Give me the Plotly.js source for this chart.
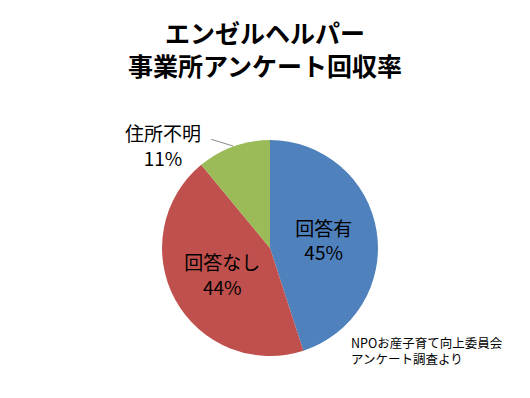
<!DOCTYPE html>
<html><head><meta charset="utf-8">
<script src="https://cdn.plot.ly/plotly-3.0.1.min.js"></script>
<style>html,body{margin:0;padding:0;background:#fff}#c{width:530px;height:398px}</style>
</head><body><div id="c"></div>
<script>
const labels = ['回答有', '回答なし', '住所不明'];
const values = [45, 44, 11];
const colors = ['#4F81BD', '#C0504D', '#9BBB59'];
const titleText = 'エンゼルヘルパー<br>事業所アンケート回収率';
const sourceText = 'NPOお産子育て向上委員会<br>アンケート調査より';

const font = '"Noto Sans CJK JP", "Noto Sans", sans-serif';
const total = values.reduce((a, b) => a + b, 0);

const trace = {
  type: 'pie',
  labels: labels,
  values: values,
  sort: false,
  direction: 'clockwise',
  rotation: 0,
  marker: {colors: colors, line: {width: 0}},
  texttemplate: '%{label}<br>%{percent:.0%}',
  textposition: ['inside', 'inside', 'none'],
  insidetextorientation: 'horizontal',
  textfont: {family: font, size: 19, color: '#000'},
  hoverinfo: 'none',
  showlegend: false,
  domain: {x: [0.3057, 0.7132], y: [0.1055, 0.648]}
};

const layout = {
  width: 530, height: 398,
  margin: {l: 0, r: 0, t: 0, b: 0},
  paper_bgcolor: '#fff',
  annotations: [
    {
      text: '<b>' + titleText + '</b>',
      xref: 'paper', yref: 'paper',
      x: 0.5, y: 0.879, xanchor: 'center', yanchor: 'middle',
      showarrow: false, align: 'center',
      font: {family: font, size: 25, color: '#000'}
    },
    {
      text: labels[2] + '<br>' + Math.round(values[2] / total * 100) + '%',
      xref: 'paper', yref: 'paper',
      x: 0.308, y: 0.636, xanchor: 'center', yanchor: 'middle',
      showarrow: false,
      font: {family: font, size: 19, color: '#000'}, align: 'center'
    },
    {
      x: 0.44, y: 0.633, ax: 0.396, ay: 0.651,
      xref: 'paper', yref: 'paper', axref: 'paper', ayref: 'paper',
      showarrow: true, arrowhead: 0, arrowwidth: 1, arrowcolor: '#888', text: ''
    },
    {
      text: sourceText,
      xref: 'paper', yref: 'paper',
      x: 0.658, y: 0.168, xanchor: 'left', yanchor: 'top',
      showarrow: false, align: 'left',
      font: {family: font, size: 12.5, color: '#000'}
    }
  ]
};

Plotly.newPlot('c', [trace], layout, {displayModeBar: false, staticPlot: true});
</script></body></html>
